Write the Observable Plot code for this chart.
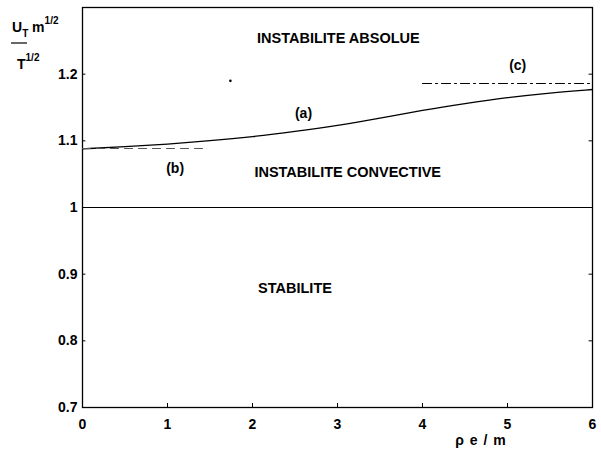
<!DOCTYPE html>
<html>
<head>
<meta charset="utf-8">
<script src="https://cdn.jsdelivr.net/npm/d3@7"></script>
<script src="https://cdn.jsdelivr.net/npm/@observablehq/plot@0.6"></script>
<style>
  html, body { margin: 0; padding: 0; background: #fff; }
  #chart { width: 601px; height: 452px; }
  svg { font-family: "Liberation Sans", Arial, sans-serif; }
</style>
</head>
<body>
<div id="chart"></div>
<script>
// Curve (a)
const curveX = [0, 0.5, 1, 1.5, 2, 2.5, 3, 3.5, 4, 4.5, 5, 5.5, 6];
const curveY = [1.088, 1.091, 1.095, 1.100, 1.106, 1.114, 1.123, 1.134, 1.146, 1.156, 1.165, 1.172, 1.177];
// Asymptote (b), dashed
const bX = [0, 1.48];
const bY = [1.0885, 1.0885];
// Asymptote (c), dash-dot
const cX = [4.0, 6];
const cY = [1.186, 1.186];
// Stability boundary
const boundaryY = [1];
// Tick values
const xTicks = [0, 1, 2, 3, 4, 5, 6];
const yTicks = [0.7, 0.8, 0.9, 1, 1.1, 1.2];
// Region labels
const regionText = ["INSTABILITE ABSOLUE", "INSTABILITE CONVECTIVE", "STABILITE"];
const regionX = [3.01, 3.12, 2.5];
const regionY = [1.253, 1.052, 0.878];
// Curve labels
const curveLabel = ["(a)", "(b)", "(c)"];
const curveLabelX = [2.6, 1.09, 5.12];
const curveLabelY = [1.141, 1.058, 1.213];
// stray dot in the figure
const dotX = [1.74];
const dotY = [1.19];

const curve = curveX.map((x, i) => ({x, y: curveY[i]}));
const bLine = bX.map((x, i) => ({x, y: bY[i]}));
const cLine = cX.map((x, i) => ({x, y: cY[i]}));
const regions = regionText.map((t, i) => ({t, x: regionX[i], y: regionY[i]}));
const labels = curveLabel.map((t, i) => ({t, x: curveLabelX[i], y: curveLabelY[i]}));
const dots = dotX.map((x, i) => ({x, y: dotY[i]}));

const plot = Plot.plot({
  width: 601,
  height: 452,
  marginLeft: 82,
  marginRight: 9,
  marginTop: 7,
  marginBottom: 45,
  style: {fontFamily: "'Liberation Sans', Arial, sans-serif", fontSize: "12px", background: "#fff", color: "#000"},
  x: {domain: [0, 6], ticks: xTicks, tickFormat: d => String(d), label: null},
  y: {domain: [0.7, 1.3], ticks: yTicks, tickFormat: d => String(d), label: null},
  marks: [
    Plot.frame({stroke: "#000", strokeWidth: 1.3}),
    Plot.axisX({ticks: xTicks, tickSize: 0, tickPadding: 12, fontWeight: "bold", fontSize: 14, tickFormat: d => String(d)}),
    Plot.axisY({ticks: yTicks, tickSize: 0, tickPadding: 5, fontWeight: "bold", fontSize: 14, tickFormat: d => String(d)}),
    Plot.ruleY(yTicks, {y: d => d, x1: 0, x2: 0.04, stroke: "#000"}),
    Plot.ruleY(yTicks, {y: d => d, x1: 5.96, x2: 6, stroke: "#000"}),
    Plot.ruleX(xTicks, {x: d => d, y1: 0.7, y2: 0.706, stroke: "#000"}),
    Plot.ruleY(boundaryY, {y: d => d, stroke: "#000", strokeWidth: 1.2}),
    Plot.line(curve, {x: "x", y: "y", stroke: "#000", strokeWidth: 1.3, curve: "basis"}),
    Plot.line(bLine, {x: "x", y: "y", stroke: "#555", strokeWidth: 1.1, strokeDasharray: "8,6"}),
    Plot.line(cLine, {x: "x", y: "y", stroke: "#000", strokeWidth: 1.1, strokeDasharray: "9,4,2,4"}),
    Plot.dot(dots, {x: "x", y: "y", r: 1.3, fill: "#000", stroke: null}),
    Plot.text(regions, {x: "x", y: "y", text: "t", fontWeight: "bold", fontSize: 14.5, fill: "#000"}),
    Plot.text(labels, {x: "x", y: "y", text: "t", fontWeight: "bold", fontSize: 14, fill: "#000"})
  ]
});
document.getElementById("chart").appendChild(plot);

// y-axis label: U_T m^{1/2} / T^{1/2}
const svg = d3.select(plot);
const g = svg.append("g").attr("fill", "#000").attr("font-weight", "bold")
  .attr("text-anchor", "start")
  .attr("font-family", "'Liberation Sans', Arial, sans-serif");
const t1 = g.append("text").attr("x", 12).attr("y", 32).attr("font-size", 14).attr("text-anchor", "start");
t1.append("tspan").text("U");
t1.append("tspan").attr("font-size", 10).attr("dy", 5).text("T");
t1.append("tspan").attr("dy", -5).text(" m");
t1.append("tspan").attr("font-size", 10).attr("dy", -8).text("1/2");
g.append("line").attr("x1", 11).attr("x2", 27).attr("y1", 43).attr("y2", 43)
  .attr("stroke", "#000").attr("stroke-width", 1.2);
const t2 = g.append("text").attr("x", 17).attr("y", 69).attr("font-size", 14).attr("text-anchor", "start");
t2.append("tspan").text("T");
t2.append("tspan").attr("font-size", 10).attr("dy", -8).text("1/2");
// x-axis label
svg.append("text").attr("x", 481).attr("y", 445).attr("text-anchor", "middle")
  .attr("font-size", 14).attr("font-weight", "bold").attr("fill", "#000")
  .attr("letter-spacing", 1)
  .attr("font-family", "'Liberation Sans', Arial, sans-serif")
  .text("\u03C1 e / m");
</script>
</body>
</html>
